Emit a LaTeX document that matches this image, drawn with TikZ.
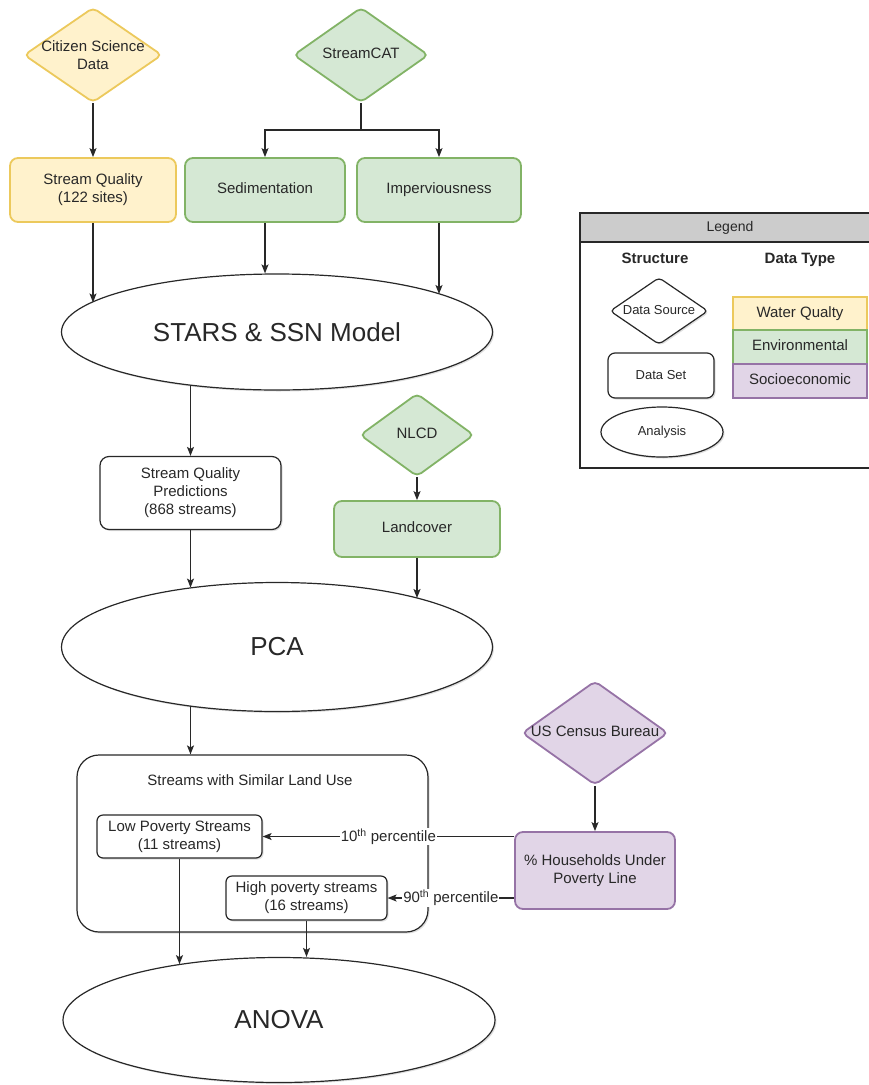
\documentclass[tikz,border=0pt]{standalone}
\usepackage{fontspec}
\setmainfont{Liberation Sans}
\usetikzlibrary{arrows.meta,shapes.geometric,shadows}
\definecolor{wqfill}{HTML}{FFF2CC}
\definecolor{wqline}{RGB}{236,201,92}
\definecolor{envfill}{HTML}{D5E8D4}
\definecolor{envline}{HTML}{82B366}
\definecolor{sesfill}{HTML}{E1D5E7}
\definecolor{sesline}{HTML}{9673A6}
\definecolor{legendgray}{RGB}{204,204,204}
\definecolor{inkgray}{RGB}{40,40,40}

\begin{document}
\begin{tikzpicture}[x=1pt,y=-1pt,
  every node/.style={font=\fontsize{15}{18}\selectfont,text=inkgray,align=center},
  oneline/.style={text height=0.72em,text depth=0pt},
  flow/.style={draw=inkgray,line width=1.2pt,-{Stealth[length=9pt,width=7pt,inset=2pt]}},
  softshadow/.style={drop shadow={shadow xshift=1.5pt,shadow yshift=-1.5pt,opacity=0.25}},
  source/.style={diamond,draw=#1line,fill=#1fill,line width=1.8pt,rounded corners=5pt,inner sep=0pt},
  dataset/.style={rectangle,draw=#1line,fill=#1fill,line width=1.8pt,rounded corners=8pt},
  plainset/.style={rectangle,draw=inkgray,fill=white,line width=1.2pt,rounded corners=7pt,softshadow},
  analysis/.style={ellipse,draw=inkgray,fill=white,line width=1.2pt,inner sep=0pt,softshadow,
    font=\fontsize{26}{31}\selectfont},
  tag/.style={fill=white,inner sep=1pt}]
  \useasboundingbox (0,0) rectangle (869,1085);

  % data sources
  \node[source=wq,minimum width=138pt,minimum height=95pt] (citizen) at (93,55) {};
  \node (citizen-t) at (citizen) {Citizen Science\\Data};
  \node[source=env,minimum width=135pt,minimum height=95pt] (streamcat) at (361,55) {};
  \node[oneline] (streamcat-t) at (streamcat) {StreamCAT};
  \node[source=env,minimum width=114pt,minimum height=83pt] (nlcd) at (417,435) {};
  \node[oneline] (nlcd-t) at (nlcd) {NLCD};
  \node[source=ses,minimum width=146pt,minimum height=104pt] (census) at (595,733) {};
  \node[oneline] (census-t) at (census) {US Census Bureau};

  % data sets
  \node[dataset=wq,minimum width=166pt,minimum height=64pt] (sq) at (93,190) {Stream Quality\\(122 sites)};
  \node[dataset=env,oneline,minimum width=160pt,minimum height=64pt] (sed) at (265,190) {Sedimentation};
  \node[dataset=env,oneline,minimum width=164pt,minimum height=64pt] (imp) at (439,190) {Imperviousness};
  \node[plainset,rounded corners=9pt,minimum width=181pt,minimum height=73pt] (pred) at (190.5,493)
    {Stream Quality\\Predictions\\(868 streams)};
  \node[dataset=env,oneline,minimum width=166pt,minimum height=56pt] (land) at (417,529) {Landcover};
  \node[dataset=ses,minimum width=160pt,minimum height=77pt] (hh) at (595,870.5)
    {\% Households Under\\Poverty Line};

  % analyses
  \node[analysis,minimum width=431pt,minimum height=116pt] (stars) at (277,332) {STARS \& SSN Model};
  \node[analysis,minimum width=431pt,minimum height=129pt] (pca) at (277,647) {PCA};
  \node[analysis,minimum width=432pt,minimum height=125pt] (anova) at (279,1020) {ANOVA};

  % grouped streams
  \node[plainset,rounded corners=22pt,minimum width=351pt,minimum height=177pt] (cont) at (252.5,843.5) {};
  \node[oneline] (cont-t) at (250,782) {Streams with Similar Land Use};
  \node[plainset,rounded corners=6pt,minimum width=165pt,minimum height=43pt] (low) at (179.5,836.5)
    {Low Poverty Streams\\(11 streams)};
  \node[plainset,rounded corners=6pt,minimum width=161pt,minimum height=44pt] (high) at (306.5,898)
    {High poverty streams\\(16 streams)};

  % connectors
  \coordinate (catsplit) at (361,130);
  \draw[flow] (citizen.south) -- (sq.north);
  \draw[flow] (streamcat.south) -- (catsplit) -| (sed.north);
  \draw[flow] (catsplit) -| (imp.north);
  \draw[flow] (sq.south) -- (sq.south |- stars.171);
  \draw[flow] (sed.south) -- (sed.south |- stars.north);
  \draw[flow] (imp.south) -- (imp.south |- stars.13);
  \draw[flow] (pred.north |- stars.211) -- (pred.north);
  \draw[flow] (pred.south) -- (pred.south |- pca.146);
  \draw[flow] (nlcd.south) -- (land.north);
  \draw[flow] (land.south) -- (land.south |- pca.19);
  \draw[flow] (pred.south |- pca.214) -- (pred.south |- cont.north);
  \draw[flow] (census.south) -- (hh.north);
  \draw[flow] (hh.west |- low.east) -- node[tag] {10\textsuperscript{th} percentile} (low.east);
  \draw[flow] (hh.west |- high.east) -- node[tag] {90\textsuperscript{th} percentile} (high.east);
  \draw[flow] (low.south) -- (low.south |- anova.151);
  \draw[flow] (high.south) -- (high.south |- anova.north);

  % legend
  \draw[draw=inkgray,line width=1.2pt,fill=white] (580,213) rectangle (880,468);
  \draw[draw=inkgray,line width=1.2pt,fill=legendgray] (580,213) rectangle (880,242);
  \node[oneline,font=\fontsize{14}{17}\selectfont] (legend-t) at (730,227.5) {Legend};
  \node[oneline,font=\fontsize{15}{18}\selectfont\bfseries] (structure-t) at (655,260) {Structure};
  \node[oneline,font=\fontsize{15}{18}\selectfont\bfseries] (datatype-t) at (800,260) {Data Type};
  \node[diamond,draw=inkgray,fill=white,line width=1.2pt,rounded corners=4pt,inner sep=0pt,softshadow,
    minimum width=98pt,minimum height=67pt] (key-source) at (659,311) {};
  \node[oneline,font=\fontsize{13}{16}\selectfont] (key-source-t) at (key-source) {Data Source};
  \node[plainset,oneline,font=\fontsize{13}{16}\selectfont,minimum width=106pt,minimum height=45pt] (key-set)
    at (661,375.5) {Data Set};
  \node[analysis,oneline,font=\fontsize{13}{16}\selectfont,minimum width=122pt,minimum height=50pt] (key-analysis)
    at (662,432) {Analysis};
  \node[oneline,draw=wqline,fill=wqfill,line width=1.8pt,minimum width=134pt,minimum height=33pt] (key-wq)
    at (800,313.5) {Water Qualty};
  \node[oneline,draw=envline,fill=envfill,line width=1.8pt,minimum width=134pt,minimum height=34pt] (key-env)
    at (800,347) {Environmental};
  \node[oneline,draw=sesline,fill=sesfill,line width=1.8pt,minimum width=134pt,minimum height=34pt] (key-ses)
    at (800,381) {Socioeconomic};
\end{tikzpicture}
\end{document}
